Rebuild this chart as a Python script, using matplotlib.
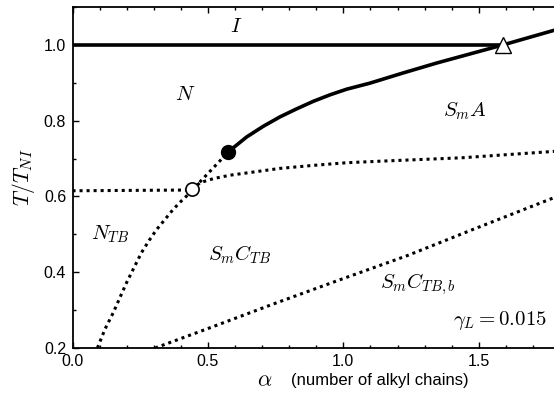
import numpy as np
import matplotlib
matplotlib.use("Agg")
import matplotlib.pyplot as plt

plt.rcParams['font.family'] = ['Liberation Sans', 'DejaVu Sans']
plt.rcParams['mathtext.fontset'] = 'cm'

# phase boundaries (alpha, T/T_NI)
ni_a = [0.0, 1.59]
ni_T = [1.0, 1.0]

sma_a = [0.575, 0.593, 0.643, 0.704, 0.766, 0.827, 0.889, 0.950, 1.012,
         1.098, 1.221, 1.344, 1.467, 1.59, 1.80]
sma_T = [0.717, 0.728, 0.757, 0.785, 0.810, 0.831, 0.851, 0.868, 0.883,
         0.899, 0.926, 0.952, 0.976, 1.0, 1.043]

ntb_a = [0.0, 0.442]
ntb_T = [0.615, 0.617]

left_a = [0.092, 0.120, 0.151, 0.175, 0.200, 0.227, 0.255, 0.283, 0.311,
          0.341, 0.372, 0.399, 0.427, 0.442, 0.575]
left_T = [0.200, 0.250, 0.294, 0.333, 0.373, 0.412, 0.452, 0.484, 0.513,
          0.539, 0.566, 0.586, 0.605, 0.617, 0.717]

mid_a = [0.442, 0.470, 0.520, 0.581, 0.643, 0.766, 0.889, 1.012, 1.135,
         1.436, 1.80]
mid_T = [0.617, 0.636, 0.647, 0.656, 0.662, 0.674, 0.682, 0.689, 0.693,
         0.702, 0.720]

low_a = [0.305, 0.495, 0.741, 0.987, 1.233, 1.479, 1.80]
low_T = [0.200, 0.250, 0.316, 0.380, 0.443, 0.513, 0.603]

# special points
filled_pt = (0.575, 0.717)
open_pt = (0.442, 0.619)
tri_pt = (1.59, 1.0)

fig = plt.figure(figsize=(5.54, 3.93), dpi=100)
ax = fig.add_axes([72.5/554, 45/393, (560-72.5)/554, (348-7)/393])

dots = (0, (1, 1.3))
lw_s = 2.6
lw_d = 2.2
ax.plot(ni_a, ni_T, color='k', lw=lw_s, solid_capstyle='butt')
ax.plot(sma_a, sma_T, color='k', lw=lw_s)
ax.plot(ntb_a, ntb_T, color='k', lw=lw_d, ls=dots)
ax.plot(left_a, left_T, color='k', lw=lw_d, ls=dots)
ax.plot(mid_a, mid_T, color='k', lw=lw_d, ls=dots)
ax.plot(low_a, low_T, color='k', lw=lw_d, ls=dots)

ax.plot(*filled_pt, 'o', color='k', ms=10, zorder=5)
ax.plot(*open_pt, 'o', mfc='white', mec='k', mew=1.2, ms=9.5, zorder=5)
ax.plot(*tri_pt, '^', mfc='white', mec='k', mew=1.0, ms=11.5, zorder=5)

ax.set_xlim(0, 1.8)
ax.set_ylim(0.2, 1.1)
ax.set_xticks([0.0, 0.5, 1.0, 1.5])
ax.set_xticks(np.arange(0, 1.81, 0.1), minor=True)
ax.set_yticks([0.2, 0.4, 0.6, 0.8, 1.0])
ax.set_yticks(np.arange(0.2, 1.11, 0.1), minor=True)
ax.xaxis.set_major_formatter(plt.FormatStrFormatter('%.1f'))
ax.yaxis.set_major_formatter(plt.FormatStrFormatter('%.1f'))
ax.tick_params(which='both', direction='in', top=True, right=True,
               labelsize=11.5, width=1.0)
ax.tick_params(which='major', length=4.5)
ax.tick_params(which='minor', length=2.5)
ax.tick_params(axis='x', pad=4.5)
ax.tick_params(axis='y', pad=4.5)
for s in ax.spines.values():
    s.set_linewidth(1.3)

fs = 15
ax.text(0.603, 1.048, r'$I$', fontsize=fs, ha='center', va='center')
ax.text(0.415, 0.870, r'$N$', fontsize=fs, ha='center', va='center')
ax.text(1.449, 0.824, r'$S_mA$', fontsize=fs, ha='center', va='center')
ax.text(0.138, 0.500, r'$N_{TB}$', fontsize=fs, ha='center', va='center')
ax.text(0.618, 0.447, r'$S_mC_{TB}$', fontsize=fs, ha='center', va='center')
ax.text(1.276, 0.368, r'$S_mC_{TB,b}$', fontsize=fs, ha='center', va='center')
ax.text(1.75, 0.272, r'$\gamma_L = 0.015$', fontsize=fs, ha='right', va='center')

ax.set_ylabel(r'$T/T_{NI}$', fontsize=15.5)
ax.yaxis.set_label_coords(-0.073, 0.5)
fig.text(265/554, 1 - 381/393, r'$\alpha$', fontsize=16,
         ha='center', va='center')
fig.text(291/554, 1 - 380/393, '(number of alkyl chains)',
         fontsize=12, ha='left', va='center')

fig.savefig('out.png', dpi=100)
